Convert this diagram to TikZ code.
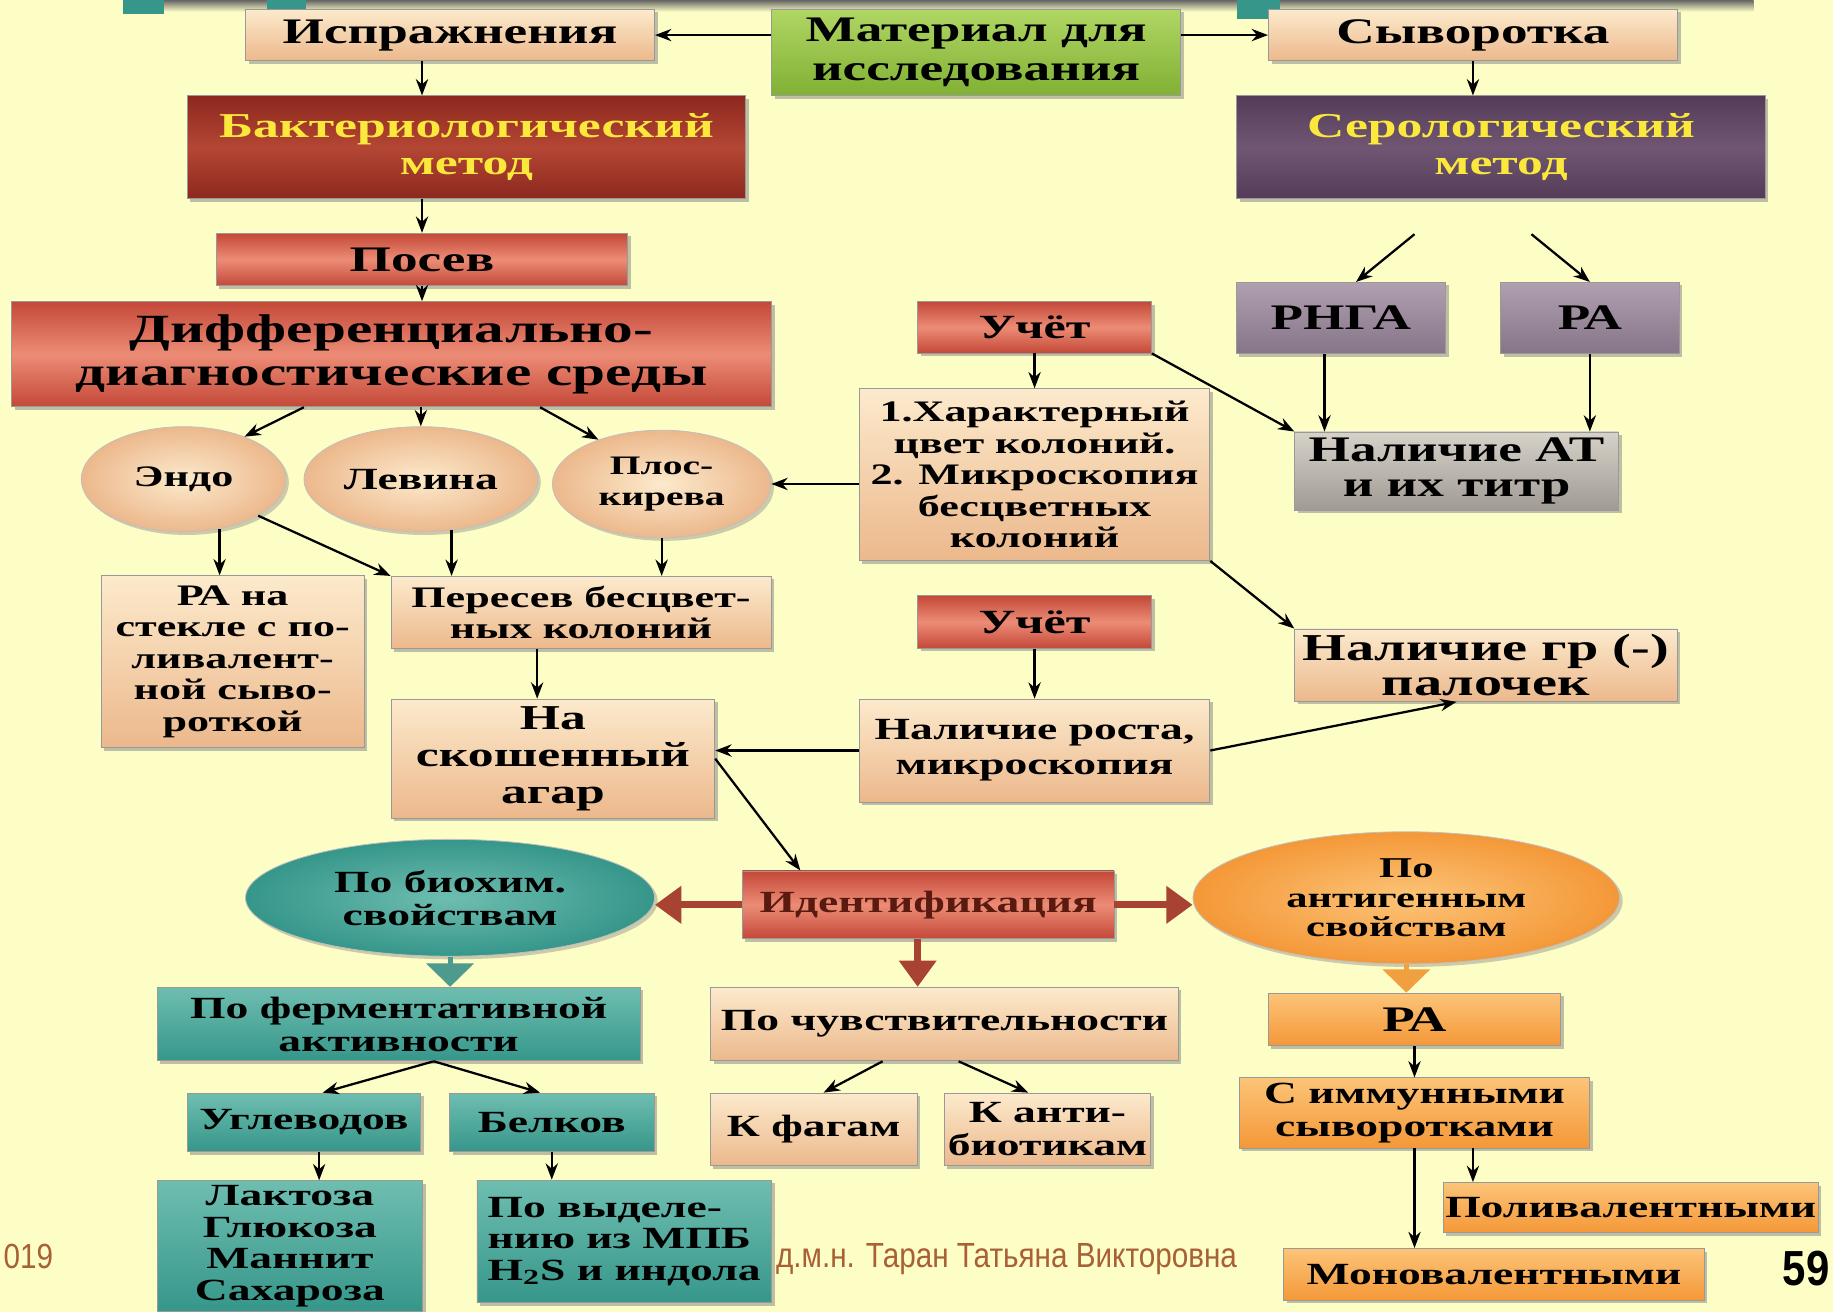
\documentclass[tikz,border=0pt]{standalone}
\usepackage{fontspec}
\setmainfont{Liberation Serif}[FakeStretch=1.48]
\newfontfamily\footfont{Liberation Sans}[FakeStretch=0.85]
\usepackage{tikz}
\usetikzlibrary{arrows.meta, shapes.geometric, shadows}

\definecolor{bgyel}{RGB}{253,253,198}
\definecolor{peachL}{RGB}{252,234,204}
\definecolor{peachD}{RGB}{236,184,140}
\definecolor{redL}{RGB}{236,140,118}
\definecolor{redD}{RGB}{196,72,56}
\definecolor{brickL}{RGB}{180,70,52}
\definecolor{brickD}{RGB}{140,40,30}
\definecolor{plumL}{RGB}{112,86,114}
\definecolor{plumD}{RGB}{84,60,88}
\definecolor{lilacL}{RGB}{176,160,176}
\definecolor{lilacD}{RGB}{134,116,136}
\definecolor{greyL}{RGB}{214,210,200}
\definecolor{greyD}{RGB}{160,154,148}
\definecolor{leafL}{RGB}{176,214,100}
\definecolor{leafD}{RGB}{128,176,52}
\definecolor{tealL}{RGB}{110,190,176}
\definecolor{tealD}{RGB}{54,150,138}
\definecolor{amberL}{RGB}{252,196,120}
\definecolor{amberD}{RGB}{244,152,56}
\definecolor{arrred}{RGB}{168,66,50}
\definecolor{arrteal}{RGB}{78,154,142}
\definecolor{arramber}{RGB}{240,160,64}
\definecolor{foot}{RGB}{168,96,52}
\definecolor{goldtxt}{RGB}{250,232,60}
\definecolor{identtxt}{RGB}{90,26,16}

\newcommand\normtxt{\bfseries\fontsize{15}{16}\selectfont}
\newcommand\toptxt{\bfseries\fontsize{17.5}{19}\selectfont}
\newcommand\bigtxt{\bfseries\fontsize{17}{18}\selectfont}
\newcommand\hugetxt{\bfseries\fontsize{19.5}{21}\selectfont}
\newcommand\smalltxt{\bfseries\fontsize{14.5}{15.3}\selectfont}

\begin{document}
\begin{tikzpicture}[>=Stealth, x=0.02cm, y=-0.02cm,
    every node/.style={align=center, inner sep=1pt, font=\normtxt},
    box/.style={rectangle, draw=black!40, drop shadow={shadow xshift=1.5pt, shadow yshift=-1.5pt, opacity=.5}},
    peach/.style={box, top color=peachL, bottom color=peachD},
    redbox/.style={box, top color=redD, bottom color=redD, middle color=redL},
    brick/.style={box, top color=brickD, bottom color=brickD, middle color=brickL, text=goldtxt},
    plum/.style={box, top color=plumD, bottom color=plumD, middle color=plumL, text=goldtxt},
    lilac/.style={box, top color=lilacL, bottom color=lilacD},
    greybox/.style={box, top color=greyL, bottom color=greyD},
    leaf/.style={box, top color=leafL, bottom color=leafD},
    tealbox/.style={box, top color=tealL, bottom color=tealD},
    amber/.style={box, top color=amberL, bottom color=amberD},
    oval/.style={ellipse, draw=black!25, inner sep=0pt, drop shadow={shadow xshift=1.5pt, shadow yshift=-1.5pt, opacity=.4}},
    link/.style={->, line width=1.1pt},
    fat/.style={-{Triangle[length=0.45cm, width=0.62cm]}, line width=3.4pt},
  ]
  \useasboundingbox (0,0) rectangle (1568,1122);
  \fill[bgyel] (0,0) rectangle (1568,1122);
  \shade[top color=black!60, bottom color=bgyel] (140,0) rectangle (1500,10);
  \fill[tealD] (105,0) rectangle (140,12);
  \fill[tealD] (228,0) rectangle (262,12);
  \fill[tealD] (1058,0) rectangle (1095,16);

  % material
  \node[peach, font=\toptxt, minimum width=7cm, minimum height=0.88cm] (ispr) at (385,30) {Испражнения};
  \node[leaf, font=\toptxt, minimum width=7cm, minimum height=1.48cm] (mater) at (835,45) {Материал для\\исследования};
  \node[peach, font=\toptxt, minimum width=7cm, minimum height=0.88cm] (syv) at (1260,30) {Сыворотка};

  % methods
  \node[brick, font=\bigtxt, minimum width=9.56cm, minimum height=1.76cm] (bakt) at (399,126) {Бактериологический\\метод};
  \node[plum, font=\bigtxt, minimum width=9.04cm, minimum height=1.76cm] (sero) at (1284,126) {Серологический\\метод};

  % bacteriological branch
  \node[redbox, font=\toptxt, minimum width=7.04cm, minimum height=0.9cm] (posev) at (361,222) {Посев};
  \node[redbox, font=\hugetxt, minimum width=13cm, minimum height=1.8cm] (diff) at (335,303) {Дифференциально-\\диагностические среды};

  \node[oval, font=\bfseries\fontsize{14.5}{15.3}\selectfont, inner color=peachL, outer color=peachD, minimum width=3.5cm, minimum height=1.8cm] (endo) at (157,410) {Эндо};
  \node[oval, inner color=peachL, outer color=peachD, minimum width=4cm, minimum height=1.8cm] (levina) at (360,410) {Левина};
  \node[oval, font=\bfseries\fontsize{13}{15.3}\selectfont, inner color=peachL, outer color=peachD, minimum width=3.74cm, minimum height=1.84cm] (plos) at (566,414) {Плос-\\кирева};

  \node[peach, font=\smalltxt, minimum width=4.5cm, minimum height=2.94cm] (rastek) at (199,566) {РА на\\стекле с по-\\ливалент-\\ной сыво-\\роткой};
  \node[peach, font=\bfseries\fontsize{14.5}{15.3}\selectfont, minimum width=6.5cm, minimum height=1.24cm] (peresev) at (497,524) {Пересев бесцвет-\\ных колоний};
  \node[peach, font=\bigtxt, minimum width=5.54cm, minimum height=2.04cm] (skosh) at (473,649) {На\\скошенный\\агар};

  \node[redbox, font=\bfseries\fontsize{16.5}{18}\selectfont, minimum width=4cm, minimum height=0.88cm] (uchet1) at (885,280) {Учёт};
  \node[peach, font=\smalltxt, minimum width=6cm, minimum height=2.94cm] (har) at (885,406) {1.Характерный\\цвет колоний.\\2. Микроскопия\\бесцветных\\колоний};
  \node[redbox, font=\bfseries\fontsize{16.5}{18}\selectfont, minimum width=4cm, minimum height=0.9cm] (uchet2) at (885,532) {Учёт};
  \node[peach, font=\bfseries\fontsize{15}{17}\selectfont, minimum width=6cm, minimum height=1.76cm] (nalrost) at (885,642) {Наличие роста,\\микроскопия};
  \node[peach, font=\bfseries\fontsize{18.5}{17}\selectfont, minimum width=6.54cm, minimum height=1.24cm] (nalgr) at (1271,569) {Наличие гр (-)\\палочек};

  % serological branch
  \node[lilac, font=\toptxt, minimum width=3.58cm, minimum height=1.22cm] (rnga) at (1147,272) {РНГА};
  \node[lilac, font=\toptxt, minimum width=3.06cm, minimum height=1.22cm] (ra1) at (1360,272) {РА};
  \node[greybox, font=\bfseries\fontsize{17.5}{17}\selectfont, minimum width=5.54cm, minimum height=1.34cm] (nalAT) at (1246,403) {Наличие АТ\\и их титр};

  % identification
  \node[redbox, text=identtxt, minimum width=6.36cm, minimum height=1.16cm] (ident) at (794,774) {Идентификация};
  \node[oval, inner color=tealL, outer color=tealD, minimum width=7cm, minimum height=2cm] (biohim) at (385,768) {По биохим.\\свойствам};
  \node[oval, font=\bfseries\fontsize{14}{14.4}\selectfont, inner color=amberL, outer color=amberD, minimum width=7.3cm, minimum height=2.26cm] (antigen) at (1203,768) {По\\антигенным\\свойствам};

  \node[tealbox, minimum width=8.26cm, minimum height=1.26cm] (ferm) at (341,876) {По ферментативной\\активности};
  \node[tealbox, minimum width=4cm, minimum height=1cm] (uglev) at (260,960) {Углеводов};
  \node[tealbox, minimum width=3.5cm, minimum height=1cm] (belk) at (472,960) {Белков};
  \node[tealbox, font=\bfseries\fontsize{15}{15.4}\selectfont, minimum width=4.54cm, minimum height=2.24cm] (lakt) at (248,1066) {Лактоза\\Глюкоза\\Маннит\\Сахароза};
  \node[tealbox, align=left, font=\bfseries\fontsize{15}{15.4}\selectfont, minimum width=5.04cm, minimum height=2.1cm] (vydel) at (534,1062) {По выделе-\\нию из МПБ\\H\textsubscript{2}S и индола};

  \node[peach, minimum width=8cm, minimum height=1.26cm] (chuvst) at (808,876) {По чувствительности};
  \node[peach, minimum width=3.54cm, minimum height=1.24cm] (fag) at (696,966) {К фагам};
  \node[peach, minimum width=3.54cm, minimum height=1.24cm] (antib) at (896,966) {К анти-\\биотикам};

  \node[amber, font=\toptxt, minimum width=5cm, minimum height=0.9cm] (ra2) at (1210,872) {РА};
  \node[amber, minimum width=6cm, minimum height=1.2cm] (immun) at (1210,952) {С иммунными\\сыворотками};
  \node[amber, minimum width=6.4cm, minimum height=0.86cm] (poliv) at (1395,1033) {Поливалентными};
  \node[amber, minimum width=7.2cm, minimum height=0.88cm] (monov) at (1278,1090) {Моновалентными};

  % footer
  \node[font=\footfont\fontsize{17}{19}\selectfont, text=foot, anchor=west] (year) at (1,1075) {019};
  \node[font=\footfont\fontsize{17}{19}\selectfont, text=foot] (author) at (861,1077) {д.м.н. Таран Татьяна Викторовна};
  \node[font=\footfont\bfseries\fontsize{24}{26}\selectfont, anchor=east] (page) at (1567,1085) {59};

  % arrows
  \draw[link] (mater.west |- ispr.east) -- (ispr.east);
  \draw[link] (mater.east |- syv.west) -- (syv.west);
  \draw[link] (ispr.south -| posev) -- (bakt.north -| posev);
  \draw[link] (syv.south) -- (syv.south |- sero.north);
  \draw[link] (bakt.south -| posev) -- (posev.north);
  \draw[link] (posev.south) -- (diff.north -| posev);

  \draw[link] ([xshift=-1.5cm]diff.south) -- (endo.35);
  \draw[link] (levina.north |- diff.south) -- (levina.north);
  \draw[link] ([xshift=2.54cm]diff.south) -- (plos.145);

  \coordinate (seroL) at ([xshift=-1.48cm, yshift=-0.6cm]sero.south);
  \coordinate (seroR) at ([xshift=0.52cm, yshift=-0.6cm]sero.south);
  \draw[link] (seroL) -- ([xshift=0.26cm]rnga.north);
  \draw[link] (seroR) -- (ra1.north);
  \draw[link] ([xshift=-0.28cm]rnga.south) -- ([xshift=-0.28cm]rnga.south |- nalAT.north);
  \draw[link] (ra1.south) -- (ra1.south |- nalAT.north);

  \draw[link] (uchet1.south) -- (har.north);
  \draw[link] (uchet1.south east) -- (nalAT.north west);
  \draw[link] (har.west |- plos.east) -- (plos.east);
  \draw[link] (har.south east) -- (nalgr.north west);
  \draw[link] (uchet2.south) -- (nalrost.north);
  \draw[link] (nalrost.east) -- ([xshift=-0.5cm]nalgr.south);
  \draw[link] (nalrost.west) -- (skosh.east |- nalrost.west);

  \draw[link] (endo.-54) -- (endo.-54 |- rastek.north);
  \draw[link] (endo.-26) -- (peresev.north west);
  \draw[link] (levina.-59) -- (levina.-59 |- peresev.north);
  \draw[link] (plos.south) -- (plos.south |- peresev.north);
  \draw[link] ([xshift=-0.75cm]peresev.south) -- ([xshift=-0.75cm]peresev.south |- skosh.north);
  \draw[link] (skosh.east) -- ([xshift=1cm]ident.north west);

  \draw[fat, arrred] (ident.west) -- (ident.west -| biohim.east);
  \draw[fat, arrred] (ident.east) -- (ident.east -| antigen.west);
  \draw[fat, arrred] ([xshift=-0.18cm]ident.south) -- ([xshift=-0.18cm]ident.south |- chuvst.north);
  \draw[arrteal, line width=2.5pt, -{Triangle[length=0.4cm, width=0.8cm]}] (biohim.south) -- (biohim.south |- ferm.north);
  \draw[arramber, line width=2.5pt, -{Triangle[length=0.4cm, width=0.8cm]}] (antigen.south) -- (antigen.south |- ra2.north);

  \draw[link] ([xshift=0.6cm]ferm.south) -- ([xshift=0.32cm]uglev.north);
  \draw[link] ([xshift=0.6cm]ferm.south) -- ([xshift=-0.2cm]belk.north);
  \draw[link] ([xshift=0.26cm]uglev.south) -- ([xshift=0.26cm]uglev.south |- lakt.north);
  \draw[link] (belk.south) -- (belk.south |- vydel.north);

  \draw[link] ([xshift=-1.06cm]chuvst.south) -- ([xshift=0.17cm]fag.north);
  \draw[link] ([xshift=0.24cm]chuvst.south) -- ([xshift=-0.33cm]antib.north);

  \draw[link] (ra2.south) -- (immun.north);
  \draw[link] ([xshift=1cm]immun.south) -- ([xshift=1cm]immun.south |- poliv.north);
  \draw[link] (immun.south) -- (immun.south |- monov.north);
\end{tikzpicture}
\end{document}
